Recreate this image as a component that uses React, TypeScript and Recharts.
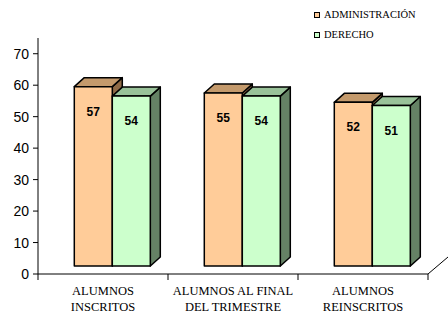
import { Bar, BarChart, LabelList, XAxis, YAxis, usePlotArea } from "recharts"

const categories = ["ALUMNOS INSCRITOS", "ALUMNOS AL FINAL DEL TRIMESTRE", "ALUMNOS REINSCRITOS"]
const categoryLines = [
    ["ALUMNOS", "INSCRITOS"],
    ["ALUMNOS AL FINAL", "DEL TRIMESTRE"],
    ["ALUMNOS", "REINSCRITOS"],
]
const administracion = [57, 55, 52]
const derecho = [54, 54, 51]
const seriesNames = ["ADMINISTRACIÓN", "DERECHO"]
const yTicks = [0, 10, 20, 30, 40, 50, 60, 70]

// fake 3d: front face sits a bit back from the axis plane, then has some depth
const SHIFT_X = 9
const SHIFT_Y = 8
const DEPTH_X = 10
const DEPTH_Y = 9

const SANS = "'Liberation Sans', Arial, sans-serif"
const SERIF = "'Liberation Serif', 'Times New Roman', serif"

const colors = {
    admin: { front: "#FFCC99", top: "#C49A6C", side: "#8F6A46" },
    derecho: { front: "#CCFFCC", top: "#99C299", side: "#658265" },
}

const data = categories.map((c, i) => ({
    name: c,
    admin: administracion[i],
    derecho: derecho[i],
}))

const bar3d = (c: { front: string; top: string; side: string }) => (props: any) => {
    const { x, y, width, height } = props
    if (width == null || height == null) return null
    const fx = x + SHIFT_X
    const fy = y - SHIFT_Y
    const top = `${fx},${fy} ${fx + DEPTH_X},${fy - DEPTH_Y} ${fx + width + DEPTH_X},${fy - DEPTH_Y} ${fx + width},${fy}`
    const side = `${fx + width},${fy} ${fx + width + DEPTH_X},${fy - DEPTH_Y} ${fx + width + DEPTH_X},${fy + height - DEPTH_Y} ${fx + width},${fy + height}`
    return (
        <g stroke="#000" strokeWidth={1.5} strokeLinejoin="round">
            <polygon points={side} fill={c.side} />
            <polygon points={top} fill={c.top} />
            <rect x={fx} y={fy} width={width} height={height} fill={c.front} />
        </g>
    )
}

const ValueLabel = (props: any) => {
    const { x, y, width, value } = props
    return (
        <text
            x={x + SHIFT_X + width / 2}
            y={y - SHIFT_Y + 25}
            textAnchor="middle"
            dominantBaseline="central"
            fontFamily={SANS}
            fontWeight="bold"
            fontSize={12}
            fill="#000"
        >
            {value}
        </text>
    )
}

const CategoryTick = (props: any) => {
    const { x, payload, index } = props
    const plot = usePlotArea()
    if (!plot) return null
    const band = plot.width / categories.length
    const bottom = plot.y + plot.height
    const lines = categoryLines[index ?? payload.index] || [payload.value]
    return (
        <g>
            {index === 0 && <line x1={x - band / 2} y1={bottom} x2={x - band / 2} y2={bottom + 6} stroke="#000" />}
            <line x1={x + band / 2} y1={bottom} x2={x + band / 2} y2={bottom + 6} stroke="#000" />
            {lines.map((l: string, i: number) => (
                <text
                    key={i}
                    x={x}
                    y={bottom + 21 + i * 16}
                    textAnchor="middle"
                    fontFamily={SERIF}
                    fontSize={12.5}
                    fill="#000"
                >
                    {l}
                </text>
            ))}
        </g>
    )
}

function FloorEdge() {
    const plot = usePlotArea()
    if (!plot) return null
    const x = plot.x + plot.width
    const y = plot.y + plot.height
    return <line x1={x} y1={y} x2={x + SHIFT_X + DEPTH_X + 1} y2={y - SHIFT_Y - DEPTH_Y} stroke="#000" strokeWidth={1} />
}

const legendColors = [colors.admin.front, colors.derecho.front]

export default function App() {
    return (
        <div style={{ position: "absolute", left: 0, top: 0, width: 448, height: 316, background: "#fff" }}>
            <BarChart
                width={448}
                height={316}
                data={data}
                margin={{ top: 38, right: 20, left: 0, bottom: 0 }}
                barGap={0}
                barCategoryGap="21%"
            >
                <XAxis
                    dataKey="name"
                    height={42}
                    axisLine={{ stroke: "#000" }}
                    tickLine={false}
                    tick={<CategoryTick />}
                    interval={0}
                />
                <YAxis
                    width={38}
                    domain={[0, 75]}
                    ticks={yTicks}
                    axisLine={{ stroke: "#000" }}
                    tickLine={{ stroke: "#000" }}
                    tickSize={5}
                    tickMargin={4}
                    tick={{ fill: "#000", fontSize: 14, fontFamily: SANS }}
                />
                <Bar dataKey="admin" isAnimationActive={false} shape={bar3d(colors.admin)}>
                    <LabelList dataKey="admin" content={<ValueLabel />} />
                </Bar>
                <Bar dataKey="derecho" isAnimationActive={false} shape={bar3d(colors.derecho)}>
                    <LabelList dataKey="derecho" content={<ValueLabel />} />
                </Bar>
                <FloorEdge />
            </BarChart>
            {seriesNames.map((n, i) => (
                <div
                    key={n}
                    style={{
                        position: "absolute",
                        left: 314,
                        top: 9 + i * 20,
                        display: "flex",
                        alignItems: "center",
                        fontFamily: SERIF,
                        fontSize: 10.5,
                        color: "#000",
                        whiteSpace: "nowrap",
                    }}
                >
                    <span
                        style={{
                            display: "inline-block",
                            width: 4,
                            height: 4,
                            border: "1.5px solid #000",
                            background: legendColors[i],
                            marginRight: 4,
                        }}
                    />
                    {n}
                </div>
            ))}
        </div>
    )
}
